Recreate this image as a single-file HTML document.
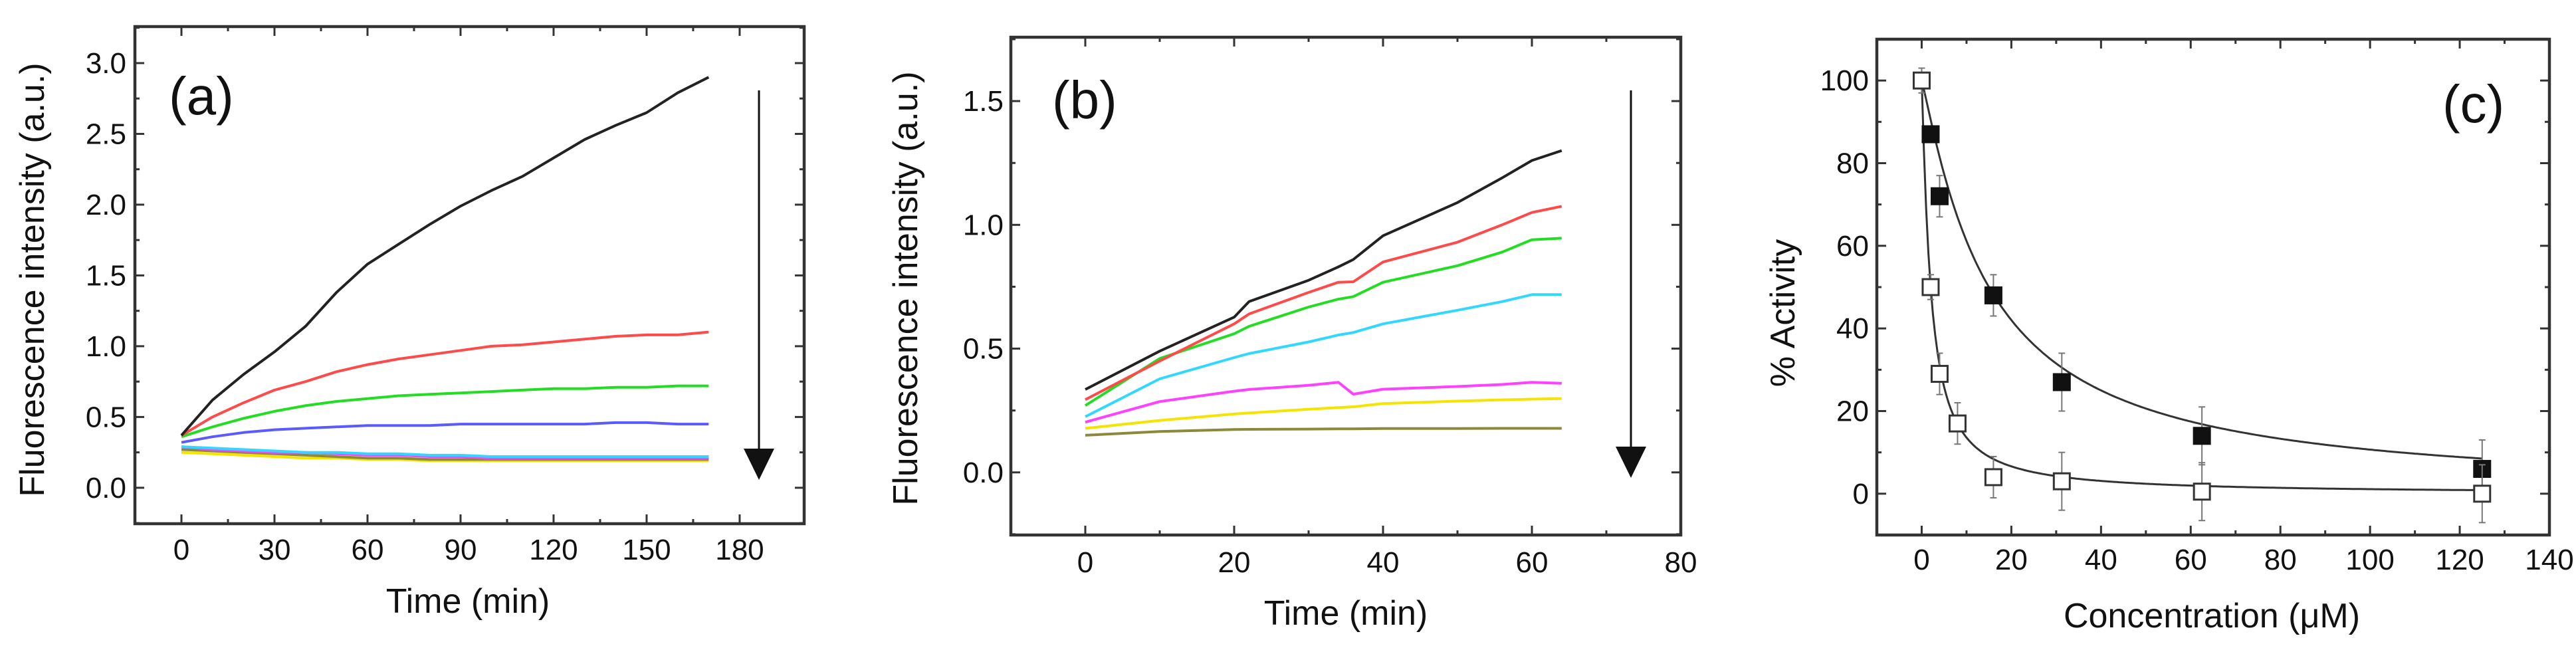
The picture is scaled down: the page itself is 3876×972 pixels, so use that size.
<!DOCTYPE html>
<html><head><meta charset="utf-8"><style>
html,body{margin:0;padding:0;background:#fff;}
svg{display:block;font-family:"Liberation Sans",Arial,sans-serif;}
</style></head><body>
<svg id="fig" width="3876" height="972" viewBox="0 0 3876 972" xmlns="http://www.w3.org/2000/svg"></svg>
<script>
// ---------- Panel (a) data ----------
const tA = [0,10,20,30,40,50,60,70,80,90,100,110,120,130,140,150,160,170];
const aBlack   = [0.37,0.62,0.80,0.96,1.14,1.38,1.58,1.72,1.86,1.99,2.10,2.20,2.33,2.46,2.56,2.65,2.79,2.90];
const aRed     = [0.37,0.50,0.60,0.69,0.75,0.82,0.87,0.91,0.94,0.97,1.00,1.01,1.03,1.05,1.07,1.08,1.08,1.10];
const aGreen   = [0.36,0.43,0.49,0.54,0.58,0.61,0.63,0.65,0.66,0.67,0.68,0.69,0.70,0.70,0.71,0.71,0.72,0.72];
const aBlue    = [0.32,0.36,0.39,0.41,0.42,0.43,0.44,0.44,0.44,0.45,0.45,0.45,0.45,0.45,0.46,0.46,0.45,0.45];
const aCyan    = [0.29,0.28,0.27,0.26,0.25,0.25,0.24,0.24,0.23,0.23,0.22,0.22,0.22,0.22,0.22,0.22,0.22,0.22];
const aMagenta = [0.29,0.27,0.26,0.25,0.25,0.24,0.23,0.23,0.22,0.22,0.21,0.21,0.21,0.21,0.21,0.21,0.21,0.21];
const aOlive   = [0.27,0.26,0.25,0.24,0.23,0.22,0.21,0.21,0.20,0.20,0.20,0.20,0.20,0.20,0.20,0.20,0.20,0.20];
const aYellow  = [0.25,0.24,0.23,0.22,0.21,0.21,0.20,0.20,0.19,0.19,0.19,0.19,0.19,0.19,0.19,0.19,0.19,0.19];
const aXTicks = [0,30,60,90,120,150,180];
const aYTicks = [0.0,0.5,1.0,1.5,2.0,2.5,3.0];
// ---------- Panel (b) data ----------
const tB = [0,10,20,22,30,34,36,40,50,56,60,64];
const bBlack   = [0.335,0.49,0.627,0.69,0.776,0.83,0.86,0.956,1.09,1.19,1.26,1.30];
const bRed     = [0.294,0.45,0.60,0.64,0.727,0.768,0.77,0.85,0.93,1.00,1.05,1.075];
const bGreen   = [0.27,0.46,0.56,0.59,0.668,0.70,0.71,0.768,0.835,0.89,0.94,0.946];
const bCyan    = [0.225,0.378,0.464,0.48,0.527,0.555,0.565,0.60,0.655,0.69,0.718,0.718];
const bMagenta = [0.203,0.286,0.328,0.335,0.352,0.364,0.316,0.336,0.347,0.355,0.364,0.36];
const bYellow  = [0.178,0.21,0.236,0.24,0.255,0.262,0.265,0.278,0.288,0.293,0.296,0.298];
const bOlive   = [0.15,0.165,0.173,0.174,0.175,0.176,0.176,0.177,0.177,0.178,0.178,0.178];
const bXTicks = [0,20,40,60,80];
const bYTicks = [0.0,0.5,1.0,1.5];
// ---------- Panel (c) data ----------
const cFilledX = [2,4,16,31.25,62.5,125];
const cFilledY = [87,72,48,27,14,6];
const cFilledErr = [2,5,5,7,7,7];
const cOpenX = [0,2,4,8,16,31.25,62.5,125];
const cOpenY = [100,50,29,17,4,3,0.5,0];
const cOpenErr = [3,3,5,5,5,7,7,7];
const cFitIC50 = [15,2];
const cFitHill = [1.12,1.15];
const cXTicks = [0,20,40,60,80,100,120,140];
const cYTicks = [0,20,40,60,80,100];

const NS="http://www.w3.org/2000/svg";
const svg=document.getElementById('fig');
function el(tag,attrs,parent){const e=document.createElementNS(NS,tag);for(const k in attrs)e.setAttribute(k,attrs[k]);(parent||svg).appendChild(e);return e;}

function makeAxes(p){
  const g=el('g',{});
  
  
  const sx=v=>p.L+(v-p.x0)/(p.x1-p.x0)*(p.R-p.L);
  const sy=v=>p.B-(v-p.y0)/(p.y1-p.y0)*(p.B-p.T);
  const tg=el('g',{stroke:'#333','stroke-width':3},g);
  
  
  const xs=p.xTicks, ys=p.yTicks;
  const dx=xs[1]-xs[0], dy=ys[1]-ys[0];
  for(let v=xs[0]-dx/2; v<=xs[xs.length-1]+1e-9; v+=dx/2){
    if(v<p.x0||v>p.x1)continue;
    const major=Math.abs((v-xs[0])/dx-Math.round((v-xs[0])/dx))<1e-6;
    const len=major?14:7;
    el('line',{x1:sx(v),x2:sx(v),y1:p.B,y2:p.B-len},tg);
    el('line',{x1:sx(v),x2:sx(v),y1:p.T,y2:p.T+len},tg);
  }
  for(let v=ys[0]-dy/2; v<=ys[ys.length-1]+dy/2+1e-9; v+=dy/2){
    if(v<p.y0||v>p.y1)continue;
    const major=Math.abs((v-ys[0])/dy-Math.round((v-ys[0])/dy))<1e-6;
    const len=major?14:7;
    el('line',{x1:p.L,x2:p.L+len,y1:sy(v),y2:sy(v)},tg);
    el('line',{x1:p.R,x2:p.R-len,y1:sy(v),y2:sy(v)},tg);
  }
  const fr=el('rect',{x:p.L,y:p.T,width:p.R-p.L,height:p.B-p.T,fill:'none',stroke:'#333','stroke-width':4.5},g);
  
  
  xs.forEach(v=>{
    const t=el('text',{x:sx(v),y:p.xLabY,'font-size':44,'text-anchor':'middle',fill:'#111'},g);
    
    
    t.textContent=p.xFmt(v);
  });
  ys.forEach(v=>{
    const t=el('text',{x:p.yLabX,y:sy(v)+15,'font-size':44,'text-anchor':'end',fill:'#111'},g);
    
    
    t.textContent=p.yFmt(v);
  });
  const xt=el('text',{x:p.xTitleX,y:p.xTitleY,'font-size':52,'text-anchor':'middle',fill:'#111'},g);
  
  
  xt.textContent=p.xTitle;
  const yt=el('text',{x:0,y:0,'font-size':52,'text-anchor':'middle',fill:'#111',transform:`translate(${p.yTitleX},${p.yTitleY}) rotate(-90)`},g);
  
  
  yt.textContent=p.yTitle;
  const pl=el('text',{x:p.panX,y:p.panY,'font-size':80,fill:'#111'},g);
  
  
  pl.textContent=p.panel;
  return {g,sx,sy};
}
function series(ax,xsArr,ysArr,color,name){
  const d=xsArr.map((x,i)=>(i?'L':'M')+ax.sx(x).toFixed(1)+','+ax.sy(ysArr[i]).toFixed(1)).join(' ');
  const p=el('path',{d,fill:'none',stroke:color,'stroke-width':4,'stroke-linejoin':'round'},ax.g);
  
  
}
function arrow(x,y1,y2,name){
  const g=el('g',{});
  
  
  el('line',{x1:x,x2:x,y1:y1,y2:y2-40,stroke:'#111','stroke-width':3},g);
  el('polygon',{points:`${x-23},${y2-47} ${x+23},${y2-47} ${x},${y2}`,fill:'#111'},g);
}

const A=makeAxes({name:'panel-a',L:203,R:1210,T:40,B:788,x0:-15,x1:200.8,y0:-0.254,y1:3.258,
  xTicks:aXTicks,yTicks:aYTicks,xFmt:v=>String(v),yFmt:v=>v.toFixed(1),xLabY:842,yLabX:190,
  xTitle:'Time (min)',xTitleX:704,xTitleY:922,yTitle:'Fluorescence intensity (a.u.)',yTitleX:66,yTitleY:421,
  panel:'(a)',panX:254,panY:172});
series(A,tA,aYellow,'#f5e400','a-yellow');
series(A,tA,aOlive,'#8a8a3a','a-olive');
series(A,tA,aMagenta,'#ff40ff','a-magenta');
series(A,tA,aCyan,'#30d8ff','a-cyan');
series(A,tA,aBlue,'#5a5aff','a-blue');
series(A,tA,aGreen,'#22dd22','a-green');
series(A,tA,aRed,'#ff4a4a','a-red');
series(A,tA,aBlack,'#222','a-black');
arrow(1142,136,722,'panel-a-arrow');

const Bx=makeAxes({name:'panel-b',L:1521,R:2529,T:56,B:805,x0:-10,x1:80,y0:-0.253,y1:1.758,
  xTicks:bXTicks,yTicks:bYTicks,xFmt:v=>String(v),yFmt:v=>v.toFixed(1),xLabY:861,yLabX:1510,
  xTitle:'Time (min)',xTitleX:2025,xTitleY:940,yTitle:'Fluorescence intensity (a.u.)',yTitleX:1380,yTitleY:434,
  panel:'(b)',panX:1583,panY:178});
series(Bx,tB,bOlive,'#8a8a3a','b-olive');
series(Bx,tB,bYellow,'#f5e400','b-yellow');
series(Bx,tB,bMagenta,'#ff40ff','b-magenta');
series(Bx,tB,bCyan,'#30d8ff','b-cyan');
series(Bx,tB,bGreen,'#22dd22','b-green');
series(Bx,tB,bRed,'#ff4a4a','b-red');
series(Bx,tB,bBlack,'#222','b-black');
arrow(2454,136,719,'panel-b-arrow');

const C=makeAxes({name:'panel-c',L:2824,R:3836,T:59,B:805,x0:-10,x1:140,y0:-10,y1:110,
  xTicks:cXTicks,yTicks:cYTicks,xFmt:v=>String(v),yFmt:v=>String(v),xLabY:857,yLabX:2812,
  xTitle:'Concentration (\u03bcM)',xTitleX:3328,xTitleY:944,yTitle:'% Activity',yTitleX:2700,yTitleY:471,
  panel:'(c)',panX:3675,panY:184});
cFitIC50.forEach((ic,k)=>{
  const h=cFitHill[k];const pts=[];
  for(let i=0;i<=250;i++){const x=i*0.5;pts.push((i?'L':'M')+C.sx(x).toFixed(1)+','+C.sy(100/(1+Math.pow(x/ic,h))).toFixed(1));}
  const p=el('path',{d:pts.join(' '),fill:'none',stroke:'#333','stroke-width':3},C.g);
  
  
});
function markers(xsArr,ysArr,errs,filled,name){
  xsArr.forEach((x,i)=>{
    const cx=C.sx(x),cy=C.sy(ysArr[i]);
    const g=el('g',{},C.g);
    
    
    const top=C.sy(ysArr[i]+errs[i]),bot=C.sy(ysArr[i]-errs[i]);
    el('line',{x1:cx,x2:cx,y1:top,y2:bot,stroke:'#777','stroke-width':2},g);
    el('line',{x1:cx-5,x2:cx+5,y1:top,y2:top,stroke:'#777','stroke-width':2},g);
    el('line',{x1:cx-5,x2:cx+5,y1:bot,y2:bot,stroke:'#777','stroke-width':2},g);
    el('rect',{x:cx-12,y:cy-12,width:24,height:24,fill:filled?'#111':'#fff',stroke:filled?'#111':'#333','stroke-width':3},g);
  });
}
markers(cFilledX,cFilledY,cFilledErr,true,'filled-marker');
markers(cOpenX,cOpenY,cOpenErr,false,'open-marker');
</script>
</body></html>
